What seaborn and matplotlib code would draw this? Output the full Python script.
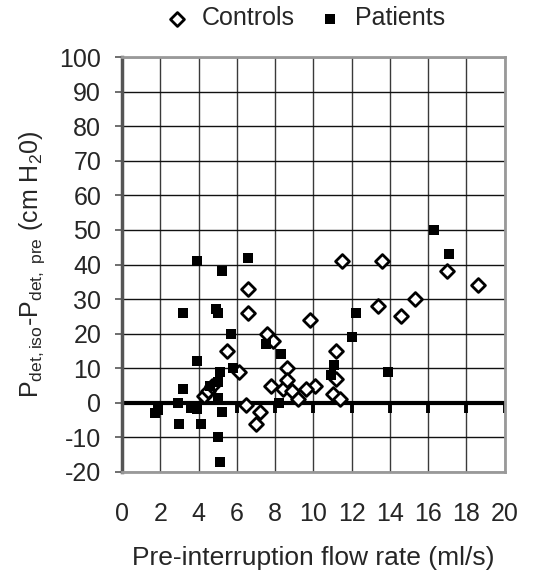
import numpy as np
import pandas as pd
import matplotlib
matplotlib.use("Agg")
import matplotlib.pyplot as plt
import seaborn as sns

# ── Data ──────────────────────────────────────────────────────────────────────
controls_x = [11.5, 13.6, 17.0, 18.6, 15.3, 13.4, 14.6, 9.8, 11.2, 11.2, 10.1, 9.6,
              11.0, 11.4, 6.6, 6.6, 7.6, 7.9, 5.5, 8.6, 6.1, 7.8, 8.4, 8.6, 8.9,
              9.2, 6.5, 7.2, 7.0, 4.3, 4.5, 4.7]
controls_y = [41, 41, 38, 34, 30, 28, 25, 24, 15, 7, 5, 4,
              2.5, 1, 33, 26, 20, 18, 15, 10, 9, 5, 4, 6.5, 3.5,
              1.2, -0.7, -2.8, -6, 2, 3.5, 5]

patients_x = [3.9, 6.6, 5.2, 3.2, 4.9, 5.0, 5.7, 7.5, 8.3, 3.9, 5.8, 5.1, 5.0, 4.6,
              3.2, 5.0, 2.9, 8.2, 1.7, 1.9, 3.6, 3.9, 5.2, 3.0, 4.1, 5.0, 5.1,
              16.3, 17.1, 12.2, 12.0, 11.1, 10.9, 13.9]
patients_y = [41, 42, 38, 26, 27, 26, 20, 17, 14, 12, 10, 9, 6, 5,
              4, 1.5, 0, 0, -3, -2, -1.5, -1.7, -2.8, -6, -6, -10, -17,
              50, 43, 26, 19, 11, 8, 9]

x_ticks = np.arange(0, 21, 2)
y_ticks = np.arange(-20, 101, 10)

df = pd.concat([
    pd.DataFrame({"flow": controls_x, "dp": controls_y, "group": "Controls"}),
    pd.DataFrame({"flow": patients_x, "dp": patients_y, "group": "Patients"}),
], ignore_index=True)

sns.set_style("white")
plt.rcParams["font.family"] = ["Liberation Sans", "DejaVu Sans"]
plt.rcParams["mathtext.fontset"] = "custom"
plt.rcParams["mathtext.rm"] = "Liberation Sans"
plt.rcParams["mathtext.it"] = "Liberation Sans"
plt.rcParams["axes.unicode_minus"] = False

fig = plt.figure(figsize=(5.33, 5.72), dpi=100)
ax = fig.add_axes([0.229, 0.175, 0.718, 0.725])

# grid
for xv in x_ticks:
    ax.axvline(xv, color="#3a3a3a", lw=1.0, zorder=0)
for yv in y_ticks:
    ax.axhline(yv, color="#111111", lw=1.0, zorder=0)

# zero line with tick marks (Excel-style crossing axis)
ax.axhline(0, color="black", lw=3.0, zorder=2)
ax.vlines(x_ticks, -3.0, 0, color="black", lw=2.8, zorder=2)

sns.scatterplot(data=df[df.group == "Controls"], x="flow", y="dp", ax=ax,
                marker="D", s=125, facecolor="white", edgecolor="black",
                linewidth=2.0, zorder=3, label="Controls")
sns.scatterplot(data=df[df.group == "Patients"], x="flow", y="dp", ax=ax,
                marker="s", s=115, color="black", edgecolor="black",
                linewidth=0, zorder=4, label="Patients")

ax.set_xlim(0, 20)
ax.set_ylim(-20, 100)
ax.set_xticks(x_ticks)
ax.set_yticks(y_ticks)
ax.tick_params(axis="x", length=0, pad=22, labelsize=18)
ax.tick_params(axis="y", length=5, width=1.2, color="#555555", direction="out",
               pad=10, labelsize=18, left=True)

for side in ["top", "right", "bottom"]:
    ax.spines[side].set_color("#999999")
    ax.spines[side].set_linewidth(2.0)
ax.spines["left"].set_color("#555555")
ax.spines["left"].set_linewidth(2.5)

ax.set_xlabel("Pre-interruption flow rate (ml/s)", fontsize=19, labelpad=14)
ax.set_ylabel(r"P$_{det,iso}$-P$_{det,\ pre}$ (cm H$_{2}$0)", fontsize=18, labelpad=9)

ax.get_legend().remove()
handles, labels = ax.get_legend_handles_labels()
handles[0].set_sizes([50])
handles[1].set_sizes([50])
fig.legend(handles, labels, loc="upper center", bbox_to_anchor=(0.56, 1.028),
           ncol=2, frameon=False, fontsize=18, handletextpad=0.0,
           columnspacing=0.4, markerscale=1)

fig.savefig("out.png", dpi=100)
